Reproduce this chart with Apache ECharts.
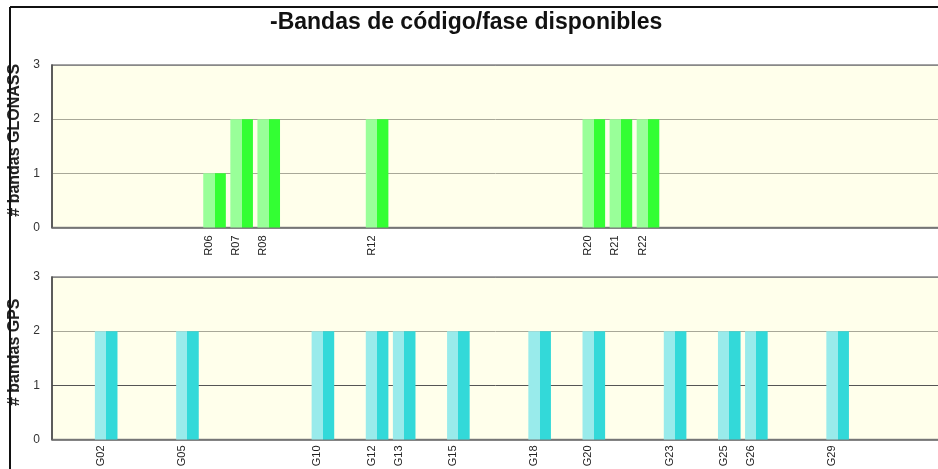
<!DOCTYPE html>
<html>
<head>
<meta charset="utf-8">
<script src="https://cdn.jsdelivr.net/npm/echarts@6/dist/echarts.min.js"></script>
<style>
  html, body { margin: 0; padding: 0; background: #fff; }
  #chart { width: 938px; height: 469px; }
</style>
</head>
<body>
<div id="chart"></div>
<script>
// satelites visibles (numero PRN) y bandas disponibles
var glonassSats = [6, 7, 8, 12, 20, 21, 22];
var glonassBandas = [1, 2, 2, 2, 2, 2, 2];
var gpsSats = [2, 5, 10, 12, 13, 15, 18, 20, 23, 25, 26, 29];
var gpsBandas = [2, 2, 2, 2, 2, 2, 2, 2, 2, 2, 2, 2];
var yTicks = [0, 1, 2, 3];

function pad(n) { return (n < 10 ? '0' : '') + n; }

function barColor(light, dark) {
    return {
        type: 'linear', x: 0, y: 0, x2: 1, y2: 0,
        colorStops: [
            {offset: 0, color: light}, {offset: 0.5, color: light},
            {offset: 0.5, color: dark}, {offset: 1, color: dark}
        ]
    };
}

function xAxisFor(idx, sats, prefix, margin) {
    return {
        type: 'value', gridIndex: idx, min: 0, max: 33, interval: 1,
        axisLine: {show: true, lineStyle: {color: '#666', width: 1.5}},
        axisTick: {show: false},
        splitLine: {show: false},
        axisLabel: {
            rotate: 90, margin: margin, fontSize: 11, color: '#222',
            fontFamily: 'Liberation Sans', verticalAlign: 'bottom', lineHeight: 11,
            showMinLabel: true, showMaxLabel: true,
            formatter: function (v) {
                return sats.indexOf(v) >= 0 ? prefix + pad(v) : '';
            }
        }
    };
}

function yAxisFor(idx, name, gridColors) {
    return {
        type: 'value', gridIndex: idx, min: yTicks[0], max: yTicks[yTicks.length - 1], interval: 1,
        name: name, nameLocation: 'middle', nameRotate: 90, nameGap: 26,
        nameTextStyle: {fontSize: 16, fontWeight: 'bold', color: '#222', fontFamily: 'Liberation Sans', padding: [0, 0, 0, 12]},
        axisLine: {show: true, lineStyle: {color: '#444', width: 1.5}},
        axisTick: {show: false},
        axisLabel: {margin: 12, fontSize: 12, color: '#333', fontFamily: 'Liberation Sans'},
        splitLine: {show: true, lineStyle: {color: gridColors, width: 1}}
    };
}

var myChart = echarts.init(document.getElementById('chart'));
var option = {
    animation: false,
    backgroundColor: '#fff',
    title: {
        text: '-Bandas de código/fase disponibles',
        left: 265, top: 6,
        textStyle: {fontSize: 23, fontWeight: 'bold', color: '#111', fontFamily: 'Liberation Sans'}
    },
    graphic: [
        {type: 'line', shape: {x1: 10, y1: 7, x2: 938, y2: 7}, style: {stroke: '#111', lineWidth: 2}, z: 100},
        {type: 'line', shape: {x1: 10, y1: 7, x2: 10, y2: 469}, style: {stroke: '#111', lineWidth: 2}, z: 100}
    ],
    grid: [
        {left: 52, width: 894, top: 65, height: 162.5, outerBoundsMode: 'none', show: true, backgroundColor: '#FFFFEB', borderColor: '#888', borderWidth: 1.5},
        {left: 52, width: 894, top: 277, height: 162.5, outerBoundsMode: 'none', show: true, backgroundColor: '#FFFFEB', borderColor: '#888', borderWidth: 1.5}
    ],
    xAxis: [
        xAxisFor(0, glonassSats, 'R', 8),
        xAxisFor(1, gpsSats, 'G', 6)
    ],
    yAxis: [
        yAxisFor(0, '# bandas GLONASS', ['#aaa', '#a8a898', '#a8a898', '#888']),
        yAxisFor(1, '# bandas GPS', ['#aaa', '#555', '#a8a898', '#888'])
    ],
    series: [
        {
            name: 'GLONASS', type: 'bar', xAxisIndex: 0, yAxisIndex: 0,
            barWidth: 22.6,
            itemStyle: {color: barColor('#99FF99', '#33FF33')},
            data: glonassSats.map(function (s, i) { return [s, glonassBandas[i]]; })
        },
        {
            name: 'GPS', type: 'bar', xAxisIndex: 1, yAxisIndex: 1,
            barWidth: 22.6,
            itemStyle: {color: barColor('#99EBEB', '#33D9D9')},
            data: gpsSats.map(function (s, i) { return [s, gpsBandas[i]]; })
        }
    ]
};
myChart.setOption(option);
</script>
</body>
</html>
